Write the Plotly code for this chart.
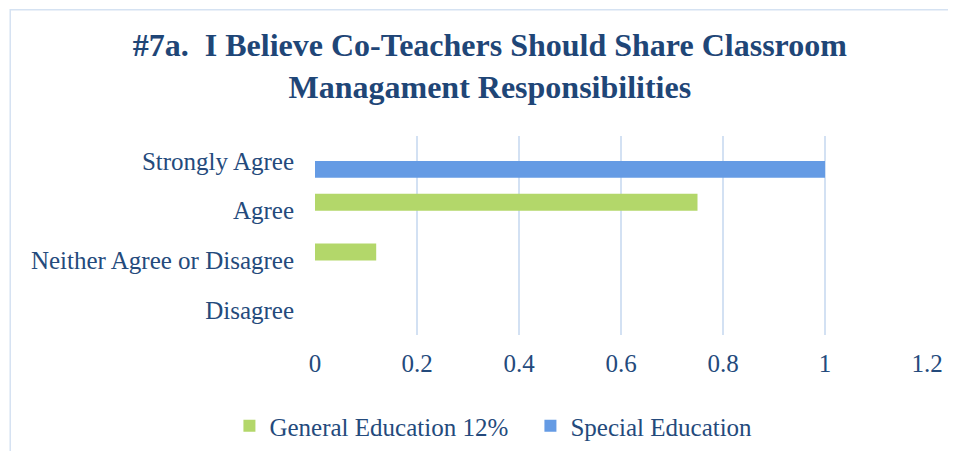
import plotly.graph_objects as go

# survey answers, top to bottom as shown
categories = ["Strongly Agree", "Agree", "Neither Agree or Disagree", "Disagree"]
general_ed = [0, 0.75, 0.12, 0]
special_ed = [1, 0, 0, 0]
x_ticks = [0, 0.2, 0.4, 0.6, 0.8, 1, 1.2]

text_color = "#244a7c"
serif = "'Liberation Serif', 'DejaVu Serif', serif"

fig = go.Figure()

fig.add_trace(go.Bar(
    y=categories, x=general_ed, orientation="h",
    name="General Education 12%",
    marker=dict(color="#b3d76a", line=dict(width=0)),
))
fig.add_trace(go.Bar(
    y=categories, x=special_ed, orientation="h",
    name="Special Education",
    marker=dict(color="#659be4", line=dict(width=0)),
))

# page body adds an 8px offset, margins are shifted back to compensate
fig.update_layout(
    width=956, height=451,
    paper_bgcolor="white", plot_bgcolor="white",
    margin=dict(l=307, r=37, t=128, b=123),
    barmode="group", bargap=0.32, bargroupgap=0,
    font=dict(family=serif, color=text_color, size=25),
    title=dict(
        text="<b>#7a.  I Believe Co-Teachers Should Share Classroom<br>Managament Responsibilities</b>",
        x=0.504, xanchor="center", xref="container",
        y=0.893, yanchor="top", yref="container",
        font=dict(size=32, color="#1f4677", family=serif),
    ),
    xaxis=dict(
        range=[0, 1.2], tickvals=x_ticks,
        ticktext=[str(v) for v in x_ticks],
        showgrid=True, gridcolor="#d3e1f3", gridwidth=1.5,
        zeroline=False, showline=False,
        ticklabelstandoff=11,
    ),
    yaxis=dict(
        autorange="reversed", showgrid=False, zeroline=False,
        showline=False, ticklabelstandoff=20,
    ),
    legend=dict(
        orientation="h", x=0.352, xanchor="center",
        y=-0.45, yanchor="middle",
        font=dict(size=25, color=text_color),
        itemwidth=30, traceorder="normal",
        entrywidth=256, entrywidthmode="pixels",
    ),
    shapes=[dict(
        type="rect", xref="paper", yref="paper",
        x0=-0.498, x1=1.2, y0=-0.8, y1=1.635,
        line=dict(color="#d5e2f2", width=1.5), layer="below",
    )],
)

fig.write_html("out.html")
